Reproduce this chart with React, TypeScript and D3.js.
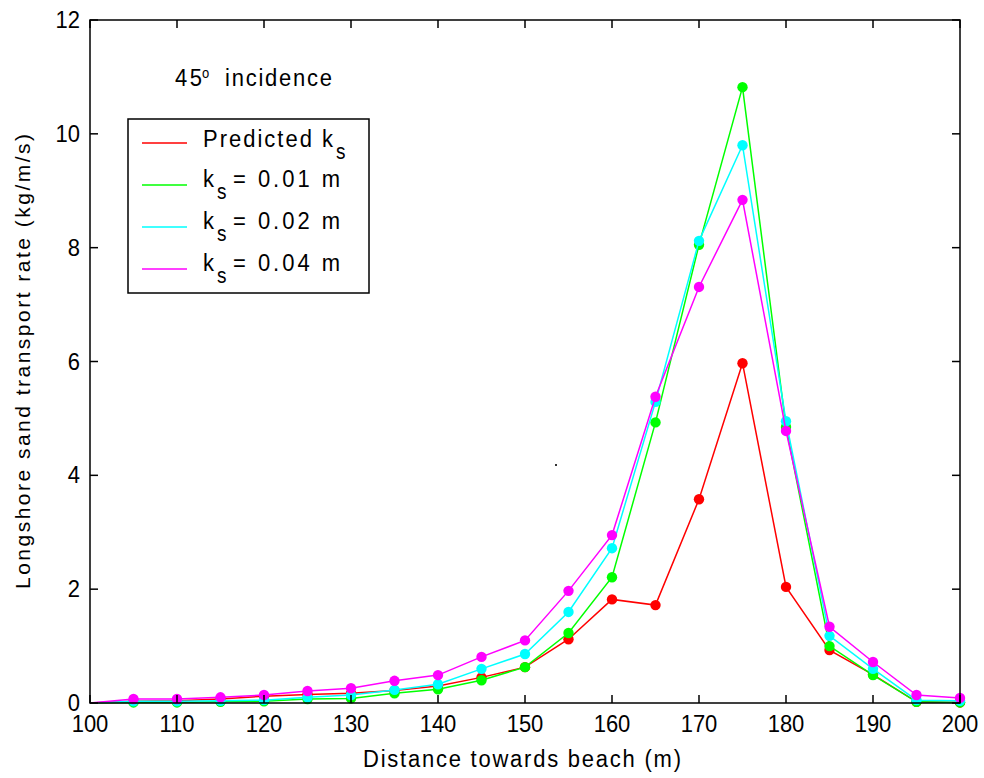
import React from "react";
import * as d3 from "d3";

const DISTANCES = [100, 105, 110, 115, 120, 125, 130, 135, 140, 145, 150, 155, 160, 165, 170, 175, 180, 185, 190, 195, 200];
const PREDICTED = [0, 0.03, 0.04, 0.07, 0.12, 0.15, 0.17, 0.22, 0.3, 0.45, 0.63, 1.12, 1.82, 1.72, 3.58, 5.97, 2.04, 0.93, 0.5, 0.02, 0.01];
const KS001 = [0, 0.01, 0.01, 0.02, 0.03, 0.07, 0.08, 0.17, 0.24, 0.4, 0.63, 1.23, 2.21, 4.93, 8.05, 10.82, 4.85, 1.0, 0.49, 0.02, 0.01];
const KS002 = [0, 0.03, 0.03, 0.04, 0.05, 0.1, 0.14, 0.23, 0.33, 0.6, 0.86, 1.6, 2.72, 5.29, 8.12, 9.8, 4.95, 1.18, 0.6, 0.05, 0.04];
const KS004 = [0, 0.07, 0.07, 0.1, 0.14, 0.21, 0.26, 0.39, 0.49, 0.81, 1.1, 1.97, 2.95, 5.38, 7.31, 8.84, 4.78, 1.34, 0.72, 0.14, 0.09];
const X_TICKS = [100, 110, 120, 130, 140, 150, 160, 170, 180, 190, 200];
const Y_TICKS = [0, 2, 4, 6, 8, 10, 12];
const SERIES_NAMES = ["Predicted", "0.01", "0.02", "0.04"];
const SERIES_COLORS = ["#ff0000", "#00ff00", "#00ffff", "#ff00ff"];
const SERIES_VALUES = [PREDICTED, KS001, KS002, KS004];

const FONT = "'Liberation Sans', Arial, sans-serif";
const FS = 22;
const SY = 1.12;

type TProps = {
  x: number;
  y: number;
  anchor?: string;
  size?: number;
  len?: number;
  children: React.ReactNode;
};

const T = ({ x, y, anchor, size, len, children }: TProps) => (
  <g transform={`translate(${x},${y}) scale(1,${SY})`}>
    <text
      x={0}
      y={0}
      fontFamily={FONT}
      fontSize={size ?? FS}
      textAnchor={anchor ?? "start"}
      fill="#000"
      {...(len ? { textLength: len, lengthAdjust: "spacing" } : {})}
    >
      {children}
    </text>
  </g>
);

export default function App() {
  const left = 90, right = 960, top = 20, bottom = 703;
  const x = d3.scaleLinear().domain([100, 200]).range([left, right]);
  const y = d3.scaleLinear().domain([0, 12]).range([bottom, top]);
  const line = d3.line<number>().x((_, i) => x(DISTANCES[i])).y((d) => y(d));
  const tickLen = 8;

  const legendX = 128, legendY = 119, legendW = 241, legendH = 174;
  const rowY = [143, 185, 227, 269];

  return (
    <svg width={984} height={778} style={{ position: "absolute", left: 0, top: 0, background: "#fff" }}>
      <rect x={0} y={0} width={984} height={778} fill="#fff" />
      {SERIES_VALUES.map((vals, si) => (
        <g key={si}>
          <path d={line(vals) || ""} fill="none" stroke={SERIES_COLORS[si]} strokeWidth={1.5} />
          {vals.map((v, i) =>
            i === 0 ? null : (
              <circle key={i} cx={x(DISTANCES[i])} cy={y(v)} r={5.2} fill={SERIES_COLORS[si]} />
            )
          )}
        </g>
      ))}
      <rect x={left} y={top} width={right - left} height={bottom - top} fill="none" stroke="#000" strokeWidth={1.5} />
      {X_TICKS.map((t) => (
        <g key={"xt" + t}>
          <line x1={x(t)} x2={x(t)} y1={bottom} y2={bottom - tickLen} stroke="#000" strokeWidth={1.5} />
          <line x1={x(t)} x2={x(t)} y1={top} y2={top + tickLen} stroke="#000" strokeWidth={1.5} />
          <T x={x(t)} y={bottom + 29} anchor="middle">{t}</T>
        </g>
      ))}
      {Y_TICKS.map((t) => (
        <g key={"yt" + t}>
          <line x1={left} x2={left + tickLen} y1={y(t)} y2={y(t)} stroke="#000" strokeWidth={1.5} />
          <line x1={right} x2={right - tickLen} y1={y(t)} y2={y(t)} stroke="#000" strokeWidth={1.5} />
          <T x={left - 10} y={y(t) + 8} anchor="end">{t}</T>
        </g>
      ))}
      <T x={522} y={767} anchor="middle" len={318}>Distance towards beach (m)</T>
      <g transform={`translate(30,${(top + bottom) / 2}) rotate(-90)`}>
        <text x={0} y={0} fontFamily={FONT} fontSize={21} textAnchor="middle" fill="#000" textLength={455} lengthAdjust="spacing">
          Longshore sand transport rate (kg/m/s)
        </text>
      </g>
      {/* annotation */}
      <T x={175} y={86} len={27}>45</T>
      <T x={202} y={78} size={13}>o</T>
      <T x={225} y={86} len={107}>incidence</T>
      {/* legend */}
      <rect x={legendX} y={legendY} width={legendW} height={legendH} fill="#fff" stroke="#000" strokeWidth={1.5} />
      {SERIES_NAMES.map((name, i) => (
        <g key={"lg" + i}>
          <line x1={142} x2={187} y1={rowY[i]} y2={rowY[i]} stroke={SERIES_COLORS[i]} strokeWidth={1.5} />
          {i === 0 ? (
            <>
              <T x={203} y={rowY[i] + 4} len={130}>Predicted k</T>
              <T x={336} y={rowY[i] + 16} size={19}>s</T>
            </>
          ) : (
            <>
              <T x={203} y={rowY[i] + 2}>k</T>
              <T x={217} y={rowY[i] + 14} size={19}>s</T>
              <T x={233} y={rowY[i] + 2} len={107}>{`= ${name} m`}</T>
            </>
          )}
        </g>
      ))}
      <rect x={555} y={464} width={2} height={2} fill="#333" />
    </svg>
  );
}
